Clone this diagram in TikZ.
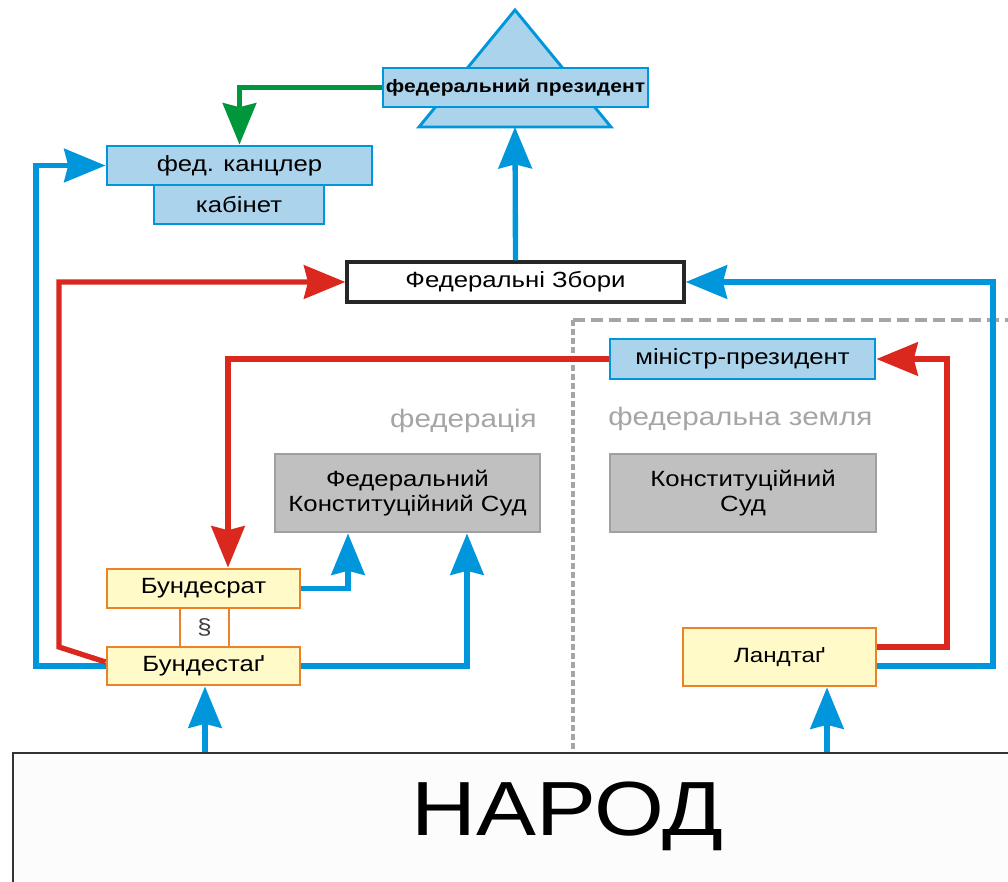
\documentclass[tikz,border=0pt]{standalone}
\usepackage{fontspec}
\setmainfont{Liberation Sans}[FakeStretch=1.17]
\usepackage{tikz}
\usetikzlibrary{arrows.meta}

\definecolor{boxblue}{RGB}{172,211,236}
\definecolor{lineblue}{RGB}{0,150,220}
\definecolor{arrowred}{RGB}{218,40,30}
\definecolor{arrowgreen}{RGB}{0,150,60}
\definecolor{boxorange}{RGB}{235,130,40}
\definecolor{boxyellow}{RGB}{255,250,200}
\definecolor{courtgrey}{RGB}{192,192,192}
\definecolor{courtedge}{RGB}{160,160,160}
\definecolor{dashgrey}{RGB}{165,165,165}
\definecolor{labelgrey}{RGB}{165,165,165}

\tikzset{
  organ/.style={draw=lineblue, fill=boxblue, line width=2.2pt, inner sep=0pt, font=\fontsize{16.5}{19}\selectfont},
  chamber/.style={draw=boxorange, fill=boxyellow, line width=2.2pt, inner sep=0pt, font=\fontsize{16.5}{19}\selectfont},
  court/.style={draw=courtedge, fill=courtgrey, line width=2.2pt, inner sep=0pt, align=center, font=\fontsize{16.5}{18.75}\selectfont},
  plainbox/.style={draw=black!85, fill=white, line width=2.5pt, inner sep=0pt, font=\fontsize{16.5}{19}\selectfont},
  arealabel/.style={text=labelgrey, inner sep=0pt, font=\fontsize{19}{22}\selectfont},
  link/.style={line width=4pt, -{Stealth[length=31pt,width=25pt,inset=3pt]}},
  bluelink/.style={link, draw=lineblue},
  redlink/.style={link, draw=arrowred},
  greenlink/.style={link, draw=arrowgreen},
  border/.style={draw=dashgrey, line width=3.6pt}
}

\begin{document}
\begin{tikzpicture}[x=0.75pt,y=0.75pt,yscale=-1,xscale=1]
\useasboundingbox (0,0) rectangle (1008,882);
\clip (0,0) rectangle (1008,882);

%Shape: Triangle [federal president]
\draw [draw=lineblue, fill=boxblue, line width=2.2pt] (515,10) -- (611,127) -- (419,127) -- cycle ;
\coordinate (presbase) at (515,127);

%Dashed border federation / land
\draw [border, dash pattern={on 9pt off 4.5pt}] (573,320) -- (1010,320) ;
\draw [border, dash pattern={on 4.5pt off 2.25pt}] (573,320) -- (573,752) ;

% Boxes
\node [organ, minimum width=198.75pt, minimum height=29.25pt, font=\bfseries\fontsize{13.5}{16}\selectfont] (pres) at (515.5,87.5) {федеральний президент};
\node [organ, minimum width=127.5pt, minimum height=29.25pt] (cab) at (239,204.5) {кабінет};
\node [organ, minimum width=198.75pt, minimum height=29.25pt] (chanc) at (239.5,165.5) {фед. канцлер};
\node [plainbox, minimum width=252.75pt, minimum height=30pt] (assembly) at (515.5,282) {Федеральні Збори};
\node [organ, minimum width=198.75pt, minimum height=30pt] (minpres) at (742.5,359) {міністр-президент};
\node [court, minimum width=198.75pt, minimum height=58.5pt] (fcc) at (407.5,493) {Федеральний\\Конституційний Суд};
\node [court, minimum width=199.5pt, minimum height=58.5pt] (lcc) at (743,493) {Конституційний\\Суд};
\node [chamber, minimum width=36.75pt, minimum height=29.25pt, fill=white, text=black!75] (para) at (204.5,627.5) {\S};
\node [chamber, minimum width=144.75pt, minimum height=29.25pt] (brat) at (203.5,588.5) {Бундесрат};
\node [chamber, minimum width=144.75pt, minimum height=28.5pt] (btag) at (203.5,666) {Бундестаґ};
\node [chamber, minimum width=144.75pt, minimum height=43.5pt, font=\fontsize{15.5}{18}\selectfont] (ltag) at (779.5,657) {Ландтаґ};

% Text Node
\node [arealabel, anchor=base east] (fedlabel) at (537,427) {федерація};
% Text Node
\node [arealabel, anchor=base west] (landlabel) at (608,425) {федеральна земля};

%Shape: Rectangle [people]
\node [draw=black!80, fill=black!1, line width=1.6pt, minimum width=765pt, minimum height=112.5pt, anchor=north west, inner sep=0pt] (people) at (12,752) {};
\node [inner sep=0pt, font=\fontsize{57.6}{60}\selectfont] (peopletext) at (567.5,816) {НАРОД};

% Connectors
\draw [greenlink] (pres.west) -| (chanc.north) ;
\draw [bluelink] (btag.west) -- (36,666) |- (chanc.west) ;
\draw [redlink] ([yshift=-3pt]btag.west) -- (59,647) |- (assembly.west) ;
\draw [bluelink] (assembly.north) -- (presbase) ;
\draw [bluelink] ([yshift=6.75pt]ltag.east) -| (993,282) -- (assembly.east) ;
\draw [redlink] ([yshift=-7.5pt]ltag.east) -| (947,359) -- (minpres.east) ;
\draw [redlink] (minpres.west) -| (228,0 |- brat.north) ;
\draw [bluelink] (brat.east) -| (348,0 |- fcc.south) ;
\draw [bluelink] (btag.east) -| (467,0 |- fcc.south) ;
\draw [bluelink] (205,0 |- people.north) -- (205,0 |- btag.south) ;
\draw [bluelink] (827,0 |- people.north) -- (827,0 |- ltag.south) ;
\end{tikzpicture}
\end{document}
